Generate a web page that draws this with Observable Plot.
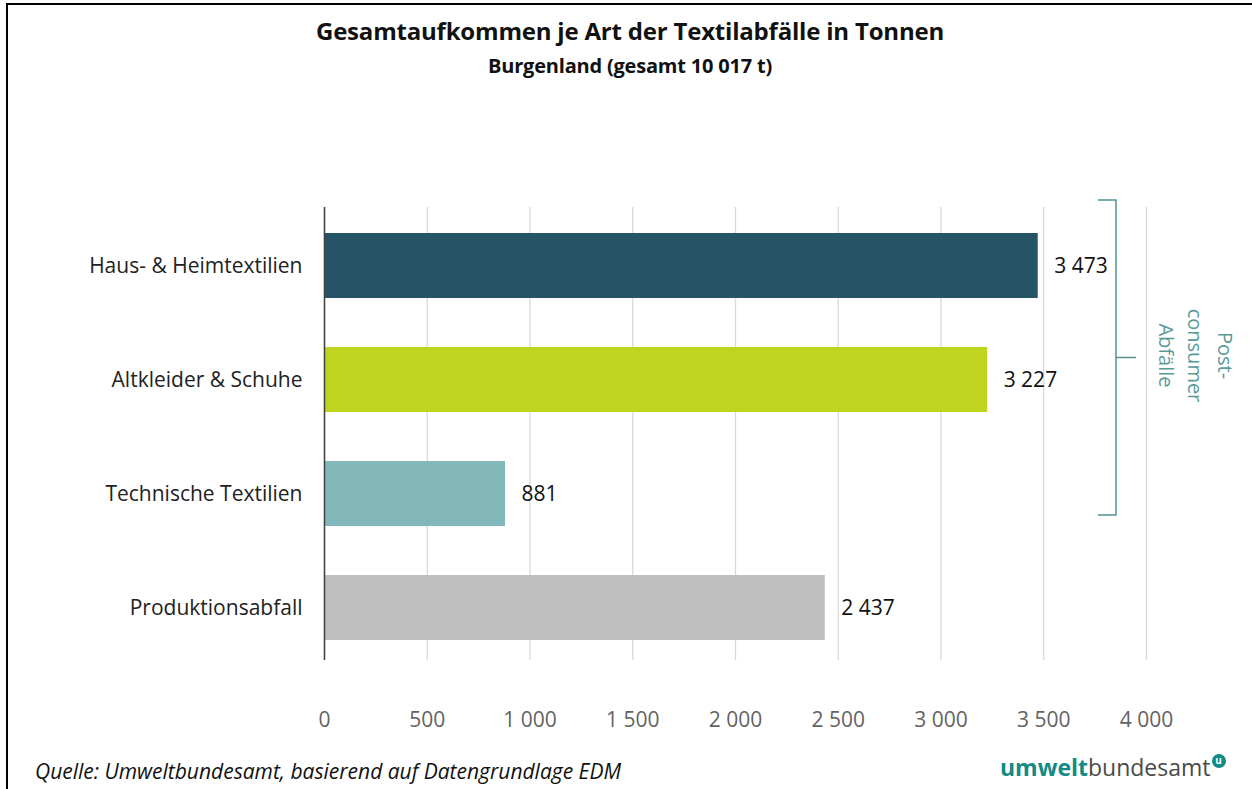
<!DOCTYPE html>
<html>
<head>
<meta charset="utf-8">
<script src="https://cdn.jsdelivr.net/npm/d3@7"></script>
<script src="https://cdn.jsdelivr.net/npm/@observablehq/plot@0.6"></script>
<style>
  html, body { margin: 0; padding: 0; background: #fff; }
  #wrap { position: relative; width: 1252px; height: 789px; overflow: hidden; font-family: "Open Sans", sans-serif; }
  #frame { position: absolute; left: 6px; top: 3px; right: -10px; bottom: -10px; border-top: 2.5px solid #000; border-left: 2px solid #000; }
  #chart { position: absolute; left: 0; top: 0; }
  .title { position: absolute; left: 0; width: 1260px; text-align: center; font-weight: 700; color: #111; }
  #t1 { top: 14px; font-size: 24px; line-height: 34px; letter-spacing: -0.2px; }
  #t2 { top: 52px; font-size: 20px; line-height: 28px; letter-spacing: -0.2px; }
  #caption { position: absolute; left: 35px; top: 755px; font-size: 21px; line-height: 32px; font-style: italic; color: #111; }
  #logo { position: absolute; left: 1000px; top: 752px; font-size: 23px; line-height: 30px; white-space: nowrap; }
  #logo .a { color: #128a85; font-weight: 700; }
  #logo .b { color: #4a4a4a; font-weight: 400; }
  #logo .c { position: absolute; right: -15px; top: 2px; width: 14px; height: 14px; border-radius: 50%; background: #128a85; color: #fff; font-size: 10px; line-height: 13px; text-align: center; font-weight: 700; }
</style>
</head>
<body>
<div id="wrap">
  <div id="frame"></div>
  <div id="chart"></div>
  <div class="title" id="t1"></div>
  <div class="title" id="t2"></div>
  <div id="caption"></div>
  <div id="logo"><span class="a">umwelt</span><span class="b">bundesamt</span><span class="c">u</span></div>
</div>
<script>
// ---- data ----
const titleText = "Gesamtaufkommen je Art der Textilabfälle in Tonnen";
const subtitleText = "Burgenland (gesamt 10 017 t)";
const captionText = "Quelle: Umweltbundesamt, basierend auf Datengrundlage EDM";
const categories = ["Haus- & Heimtextilien", "Altkleider & Schuhe", "Technische Textilien", "Produktionsabfall"];
const values = [3473, 3227, 881, 2437];
const barColors = ["#245465", "#bfd41f", "#82b8ba", "#bfbfbf"];
const xTicks = [0, 500, 1000, 1500, 2000, 2500, 3000, 3500, 4000];
const bracketCategories = ["Haus- & Heimtextilien", "Altkleider & Schuhe", "Technische Textilien"];
const bracketLabel = ["Post-", "consumer", "Abfälle"];

document.getElementById("t1").textContent = titleText;
document.getElementById("t2").textContent = subtitleText;
document.getElementById("caption").textContent = captionText;

const data = categories.map((c, i) => ({cat: c, value: values[i]}));
const fmt = d3.formatLocale({decimal: ",", thousands: "\u00a0", grouping: [3], currency: ["", ""]}).format(",d");

const plot = Plot.plot({
  width: 1252,
  height: 745,
  marginTop: 207,
  marginBottom: 85,
  marginLeft: 324,
  marginRight: 106,
  style: {fontFamily: "'Open Sans', sans-serif", fontSize: "21px", background: "transparent", overflow: "visible"},
  x: {domain: [0, 4000], ticks: xTicks, tickFormat: fmt},
  y: {domain: categories, paddingInner: 0.426, paddingOuter: 0.183, align: 0.57},
  color: {domain: categories, range: barColors},
  marks: [
    Plot.gridX(xTicks, {stroke: "#d9d9d9", strokeOpacity: 1, strokeWidth: 1.3}),
    Plot.barX(data, {x: "value", y: "cat", fill: "cat"}),
    Plot.ruleX([0], {stroke: "#404040", strokeWidth: 1.5}),
    Plot.axisX({ticks: xTicks, tickSize: 0, tickPadding: 52, tickFormat: fmt, fill: "#636363", label: null, fontSize: 21}),
    Plot.axisY({tickSize: 0, tickPadding: 22, label: null, fill: "#222", fontSize: 21}),
    Plot.text(data, {x: "value", y: "cat", text: d => fmt(d.value), dx: 16, textAnchor: "start", fill: "#111", fontSize: 21})
  ]
});
document.getElementById("chart").appendChild(plot);

// ---- bracket annotation, placed from the plot's scales ----
const xs = plot.scale("x"), ys = plot.scale("y");
const svg = d3.select(plot);
const bx = xs.apply(4000) - 30;
const yTop = ys.apply(bracketCategories[0]) - 33;
const yBot = ys.apply(bracketCategories[bracketCategories.length - 1]) + 54;
const yMid = (yTop + yBot) / 2;
const teal = "#4f9290";
const g = svg.append("g").attr("fill", "none").attr("stroke", teal).attr("stroke-width", 1.5);
g.append("path").attr("d", `M${bx - 18},${yTop}H${bx}V${yBot}H${bx - 18}M${bx},${yMid}H${bx + 20}`);
const tx = bx + 79;
const tg = svg.append("g").attr("transform", `translate(${tx},${yMid - 2}) rotate(90)`);
tg.append("text")
  .attr("text-anchor", "middle")
  .attr("fill", "#5a9a97")
  .attr("font-size", 20)
  .attr("font-family", "'Open Sans', sans-serif")
  .selectAll("tspan").data(bracketLabel).join("tspan")
  .attr("x", 0)
  .attr("y", (d, i) => i * 29.5 - 29.5)
  .attr("dy", "0.35em")
  .text(d => d);
</script>
</body>
</html>
